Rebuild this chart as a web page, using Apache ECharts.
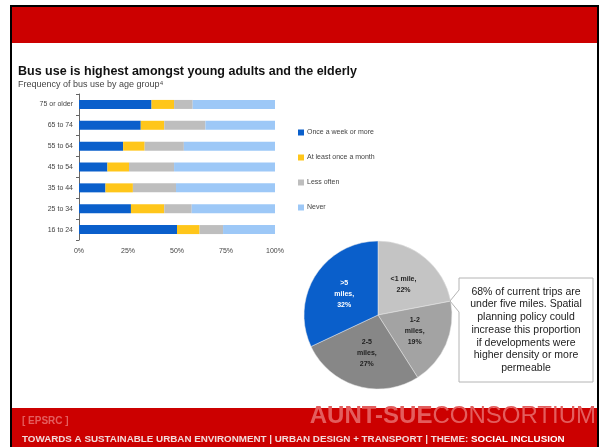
<!DOCTYPE html>
<html>
<head>
<meta charset="utf-8">
<script src="https://cdn.jsdelivr.net/npm/echarts@6/dist/echarts.min.js"></script>
<style>
html,body{margin:0;padding:0;background:#fff;}
#chart{width:600px;height:447px;}
</style>
</head>
<body>
<div id="chart"></div>
<script>
var ageGroups = ['75 or older', '65 to 74', '55 to 64', '45 to 54', '35 to 44', '25 to 34', '16 to 24'];
var seriesNames = ['Once a week or more', 'At least once a month', 'Less often', 'Never'];
var onceWeek = [37, 31.5, 22.5, 14.5, 13.5, 26.5, 50];
var onceMonth = [11.5, 12, 11, 11, 14, 17, 11.5];
var lessOften = [9.5, 21, 20, 23, 22, 14, 12];
var never = [42, 35.5, 46.5, 51.5, 50.5, 42.5, 26.5];
var xTicks = [0, 25, 50, 75, 100];

var tripNames = ['<1 mile', '1-2 miles', '2-5 miles', '>5 miles'];
var tripLabels = ['<1 mile,\n22%', '1-2\nmiles,\n19%', '2-5\nmiles,\n27%', '>5\nmiles,\n32%'];
var tripShares = [22, 19, 27, 32];

var barColors = ['#0A5FCB', '#FFC61A', '#BEBEBE', '#9DC8F7'];
var pieColors = ['#C4C4C4', '#A3A3A3', '#878787', '#0A5FCB'];
var pieLabelColors = ['#222', '#222', '#222', '#fff'];

var chart = echarts.init(document.getElementById('chart'), null, {renderer: 'canvas'});
var FONT = 'Liberation Sans, Arial, sans-serif';
var barValues = [onceWeek, onceMonth, lessOften, never];

var barSeries = seriesNames.map(function (n, i) {
  return {
    name: n, type: 'bar', stack: 'total', barWidth: 9,
    itemStyle: {color: barColors[i]},
    data: barValues[i], silent: true
  };
});

var pieSeries = {
  type: 'pie', center: [378, 315], radius: 74, startAngle: 90, clockwise: true,
  silent: true,
  itemStyle: {borderColor: '#e8e8e8', borderWidth: 0.5},
  label: {
    show: true, position: 'inside', fontFamily: FONT, fontSize: 7, fontWeight: 'bold',
    lineHeight: 11, formatter: function (p) { return tripLabels[p.dataIndex]; }
  },
  data: tripNames.map(function (n, i) {
    return {name: n, value: tripShares[i], itemStyle: {color: pieColors[i]},
      label: {color: pieLabelColors[i]}};
  })
};

var footerLine = 'TOWARDS A SUSTAINABLE URBAN ENVIRONMENT | URBAN DESIGN + TRANSPORT | THEME: ';

chart.setOption({
  animation: false,
  backgroundColor: '#fff',
  grid: {left: 79, right: 325, top: 94, bottom: 207, containLabel: false},
  xAxis: {
    type: 'value', min: 0, max: 100, interval: 25,
    axisLine: {show: false}, axisTick: {show: false}, splitLine: {show: false},
    axisLabel: {formatter: function (v) { return v + '%'; }, fontSize: 7, color: '#444', fontFamily: FONT, margin: 8}
  },
  yAxis: {
    type: 'category', data: ageGroups, inverse: true,
    axisLine: {show: true, lineStyle: {color: '#666', width: 1}},
    axisTick: {show: true, length: 3, lineStyle: {color: '#666'}},
    axisLabel: {fontSize: 7, color: '#444', fontFamily: FONT, margin: 6}
  },
  legend: {
    data: seriesNames, orient: 'vertical', left: 293, top: 124, itemGap: 18,
    itemWidth: 6, itemHeight: 6, icon: 'rect',
    textStyle: {fontSize: 7, color: '#444', fontFamily: FONT, padding: [0, 0, 0, -2]},
    selectedMode: false
  },
  series: barSeries.concat([pieSeries]),
  graphic: [
    // frame
    {type: 'rect', shape: {x: 10, y: 5, width: 589, height: 442}, style: {fill: '#000'}, z: -10, silent: true},
    {type: 'rect', shape: {x: 12, y: 7, width: 585, height: 440}, style: {fill: '#fff'}, z: -9, silent: true},
    {type: 'rect', shape: {x: 12, y: 7, width: 585, height: 36}, style: {fill: '#CC0000'}, z: -8, silent: true},
    {type: 'rect', shape: {x: 12, y: 408, width: 585, height: 39}, style: {fill: '#CC0000'}, z: -8, silent: true},
    // titles
    {type: 'text', left: 18, top: 65, style: {text: 'Bus use is highest amongst young adults and the elderly', font: 'bold 12.5px ' + FONT, fill: '#111'}, silent: true},
    {type: 'text', left: 18, top: 80, style: {text: 'Frequency of bus use by age group\u2074', font: '9px ' + FONT, fill: '#444'}, silent: true},
    // callout
    {type: 'polygon', shape: {points: [[459, 278], [593, 278], [593, 382], [459, 382], [459, 312], [450, 301], [459, 290]]},
      style: {fill: '#fff', stroke: '#b4b4b4', lineWidth: 1}, silent: true, z: 5},
    {type: 'text', x: 526, y: 330, z: 6, silent: true,
      style: {text: '68% of current trips are\nunder five miles. Spatial\nplanning policy could\nincrease this proportion\nif developments were\nhigher density or more\npermeable',
        font: '10.5px ' + FONT, fill: '#222', align: 'center', verticalAlign: 'middle', lineHeight: 12.7}},
    // footer
    {type: 'text', left: 22, top: 416, silent: true, style: {text: '[ EPSRC ]', font: 'bold 10px ' + FONT, fill: '#E45E5E'}},
    {type: 'text', right: 4, top: 404, silent: true, style: {
      text: '{b|AUNT-SUE}{r|CONSORTIUM}',
      rich: {b: {font: 'bold 24px ' + FONT, fill: '#E35D5D'}, r: {font: '24px ' + FONT, fill: '#E35D5D'}}}},
    {type: 'text', left: 22, top: 434, silent: true, style: {
      text: '{a|' + footerLine + '}{b|SOCIAL INCLUSION}',
      rich: {a: {font: 'bold 9.8px ' + FONT, fill: '#F2DADA'}, b: {font: 'bold 9.8px ' + FONT, fill: '#fff'}}}}
  ]
});
</script>
</body>
</html>
